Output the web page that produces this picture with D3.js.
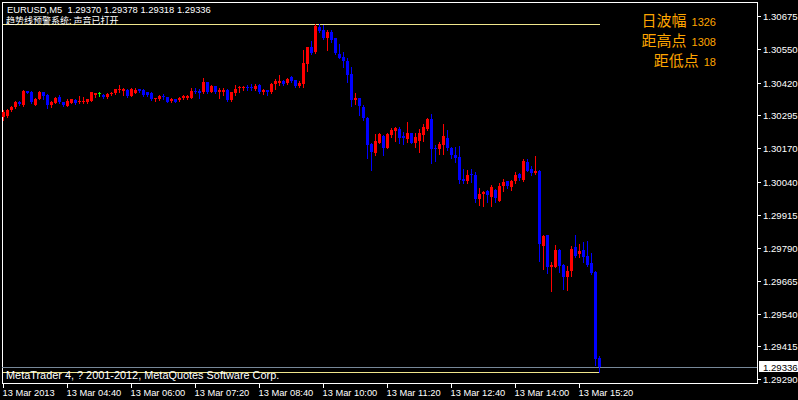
<!DOCTYPE html>
<html>
<head>
<meta charset="utf-8">
<script src="https://cdn.jsdelivr.net/npm/d3@7"></script>
<style>
  html, body { margin: 0; padding: 0; background: #000; }
  svg { display: block; }
  text { font-family: "Liberation Sans", Arial, sans-serif; }
</style>
</head>
<body>
<svg id="chart" width="798" height="400"></svg>
<script>
// ---------- DATA ----------
const symbolTitle = "EURUSD,M5  1.29370 1.29378 1.29318 1.29336";
const alertText = "趋势线预警系统: 声音已打开";
const copyrightText = "MetaTrader 4, ? 2001-2012, MetaQuotes Software Corp.";

const timeLabels = ["13 Mar 2013","13 Mar 04:40","13 Mar 06:00","13 Mar 07:20","13 Mar 08:40",
                    "13 Mar 10:00","13 Mar 11:20","13 Mar 12:40","13 Mar 14:00","13 Mar 15:20"];
const timeLabelBars = [0,16,32,48,64,80,96,112,128,144];

const priceTicks = [1.30675,1.30550,1.30420,1.30295,1.30170,1.30040,1.29915,1.29790,1.29665,1.29540,1.29415,1.29290];

const open = [1.30289,1.30294,1.30316,1.30328,1.30348,1.30335,1.30388,1.30386,1.30335,1.30358,
1.30385,1.30373,1.30335,1.30344,1.30367,1.30348,1.30332,1.30344,1.30354,1.30348,
1.30348,1.30348,1.30351,1.30373,1.30380,1.30373,1.30367,1.30376,1.30380,1.30391,
1.30389,1.30392,1.30370,1.30382,1.30395,1.30392,1.30383,1.30382,1.30358,1.30358,
1.30369,1.30364,1.30350,1.30358,1.30354,1.30363,1.30363,1.30363,1.30388,1.30388,
1.30383,1.30421,1.30386,1.30407,1.30383,1.30383,1.30392,1.30353,1.30382,1.30399,
1.30399,1.30405,1.30405,1.30396,1.30411,1.30386,1.30391,1.30383,1.30415,1.30419,
1.30428,1.30418,1.30440,1.30429,1.30407,1.30415,1.30491,1.30555,1.30537,1.30632,
1.30621,1.30591,1.30612,1.30589,1.30529,1.30519,1.30503,1.30452,1.30354,1.30360,
1.30326,1.30287,1.30186,1.30153,1.30191,1.30217,1.30172,1.30221,1.30237,1.30242,
1.30217,1.30205,1.30227,1.30191,1.30199,1.30221,1.30244,1.30280,1.30171,1.30166,
1.30183,1.30210,1.30172,1.30144,1.30136,1.30053,1.30047,1.30072,1.30067,1.29977,
1.29997,1.30007,1.29986,1.30011,1.29969,1.30026,1.30045,1.30021,1.30045,1.30072,
1.30049,1.30119,1.30090,1.30077,1.30082,1.29799,1.29838,1.29719,1.29719,1.29783,
1.29724,1.29678,1.29703,1.29793,1.29768,1.29783,1.29760,1.29732,1.29699,1.29370];

const high = [1.30316,1.30319,1.30332,1.30351,1.30351,1.30391,1.30389,1.30388,1.30360,1.30387,
1.30386,1.30376,1.30351,1.30367,1.30373,1.30348,1.30358,1.30359,1.30358,1.30369,
1.30364,1.30359,1.30386,1.30382,1.30385,1.30377,1.30381,1.30386,1.30397,1.30411,
1.30401,1.30395,1.30400,1.30399,1.30397,1.30395,1.30386,1.30385,1.30363,1.30372,
1.30376,1.30365,1.30360,1.30359,1.30365,1.30374,1.30372,1.30399,1.30399,1.30396,
1.30439,1.30424,1.30410,1.30408,1.30399,1.30399,1.30395,1.30386,1.30411,1.30408,
1.30408,1.30411,1.30414,1.30414,1.30414,1.30396,1.30393,1.30418,1.30434,1.30449,
1.30430,1.30437,1.30445,1.30431,1.30426,1.30545,1.30557,1.30579,1.30644,1.30643,
1.30640,1.30621,1.30621,1.30591,1.30566,1.30536,1.30513,1.30481,1.30380,1.30363,
1.30335,1.30290,1.30190,1.30224,1.30227,1.30220,1.30229,1.30246,1.30252,1.30250,
1.30233,1.30270,1.30229,1.30227,1.30242,1.30263,1.30284,1.30301,1.30183,1.30195,
1.30263,1.30240,1.30176,1.30176,1.30179,1.30090,1.30087,1.30090,1.30079,1.30018,
1.30008,1.30011,1.30030,1.30014,1.30039,1.30052,1.30047,1.30049,1.30079,1.30074,
1.30129,1.30128,1.30103,1.30142,1.30087,1.29840,1.29840,1.29738,1.29802,1.29785,
1.29729,1.29722,1.29798,1.29840,1.29805,1.29814,1.29817,1.29770,1.29701,1.29378];

const low = [1.30278,1.30290,1.30312,1.30325,1.30335,1.30332,1.30380,1.30344,1.30334,1.30358,
1.30358,1.30325,1.30326,1.30341,1.30344,1.30332,1.30331,1.30344,1.30339,1.30344,
1.30341,1.30344,1.30349,1.30367,1.30369,1.30360,1.30363,1.30372,1.30377,1.30386,
1.30373,1.30367,1.30368,1.30380,1.30385,1.30370,1.30369,1.30354,1.30351,1.30354,
1.30358,1.30345,1.30348,1.30346,1.30350,1.30359,1.30359,1.30360,1.30380,1.30360,
1.30381,1.30381,1.30383,1.30381,1.30363,1.30373,1.30351,1.30350,1.30373,1.30386,
1.30392,1.30392,1.30392,1.30392,1.30381,1.30377,1.30373,1.30381,1.30396,1.30411,
1.30411,1.30415,1.30424,1.30405,1.30402,1.30405,1.30465,1.30528,1.30534,1.30614,
1.30586,1.30545,1.30576,1.30528,1.30513,1.30481,1.30424,1.30332,1.30338,1.30297,
1.30278,1.30132,1.30087,1.30144,1.30189,1.30144,1.30170,1.30214,1.30199,1.30189,
1.30186,1.30195,1.30189,1.30174,1.30157,1.30199,1.30240,1.30115,1.30123,1.30147,
1.30147,1.30164,1.30132,1.30119,1.30037,1.30037,1.30039,1.30043,1.29967,1.29954,
1.29951,1.29967,1.29950,1.29967,1.29968,1.30008,1.30018,1.30011,1.30037,1.30049,
1.30047,1.30082,1.30068,1.30072,1.29742,1.29710,1.29696,1.29627,1.29718,1.29700,
1.29634,1.29630,1.29683,1.29755,1.29755,1.29738,1.29723,1.29691,1.29344,1.29318];

const close = [1.30308,1.30316,1.30328,1.30348,1.30339,1.30388,1.30382,1.30348,1.30358,1.30385,
1.30370,1.30335,1.30348,1.30363,1.30348,1.30335,1.30351,1.30357,1.30344,1.30351,
1.30351,1.30357,1.30383,1.30380,1.30380,1.30367,1.30378,1.30382,1.30395,1.30395,
1.30395,1.30370,1.30396,1.30392,1.30388,1.30373,1.30373,1.30357,1.30363,1.30369,
1.30364,1.30348,1.30358,1.30348,1.30363,1.30370,1.30369,1.30388,1.30385,1.30381,
1.30421,1.30383,1.30407,1.30383,1.30392,1.30392,1.30354,1.30383,1.30396,1.30405,
1.30405,1.30401,1.30401,1.30408,1.30383,1.30391,1.30386,1.30415,1.30428,1.30428,
1.30415,1.30434,1.30426,1.30407,1.30420,1.30494,1.30555,1.30534,1.30636,1.30618,
1.30589,1.30612,1.30583,1.30534,1.30515,1.30504,1.30449,1.30354,1.30363,1.30331,
1.30287,1.30183,1.30157,1.30198,1.30224,1.30172,1.30226,1.30240,1.30247,1.30210,
1.30210,1.30227,1.30191,1.30214,1.30227,1.30252,1.30280,1.30167,1.30166,1.30185,
1.30217,1.30172,1.30144,1.30134,1.30049,1.30047,1.30068,1.30067,1.29977,1.29996,
1.30002,1.29991,1.30021,1.29982,1.30026,1.30040,1.30028,1.30047,1.30068,1.30058,
1.30122,1.30084,1.30075,1.30084,1.29805,1.29836,1.29719,1.29724,1.29783,1.29722,
1.29678,1.29703,1.29786,1.29760,1.29778,1.29755,1.29725,1.29694,1.29367,1.29336];

const dayHigh = 1.30644;
const dayLow = 1.29318;
const bidPrice = 1.29336;

const infoLabels = ["日波幅", "距高点", "距低点"];
const infoValues = [1326, 1308, 18];

// ---------- CHART ----------
const svg = d3.select("#chart");
svg.append("rect").attr("width", 798).attr("height", 400).attr("fill", "#000");

const plotLeft = 2, plotRight = 757, plotTop = 2, plotBottom = 383;

const x = d3.scaleLinear().domain([0, open.length - 1]).range([3.5, 3.5 + 4 * (open.length - 1)]);
const y = d3.scaleLinear().domain([1.29290, 1.30675]).range([379.3, 15.7]);

const bars = open.map((o, i) => ({ i, o, h: Math.max(high[i], o, close[i]), l: Math.min(low[i], o, close[i]), c: close[i] }));
const colorOf = d => d.c > d.o ? "#FF0000" : (d.c < d.o ? "#0000FF" : "#00FF00");

const g = svg.append("g").attr("shape-rendering", "crispEdges");

// frame
g.append("rect").attr("x", plotLeft + 0.5).attr("y", plotTop + 0.5)
  .attr("width", plotRight - plotLeft).attr("height", plotBottom - plotTop)
  .attr("fill", "none").attr("stroke", "#fff");

// bid line
g.append("line").attr("x1", plotLeft).attr("x2", plotRight)
  .attr("y1", Math.round(y(bidPrice)) + 0.5).attr("y2", Math.round(y(bidPrice)) + 0.5)
  .attr("stroke", "#778899");

// day high / low lines
[dayHigh, dayLow].forEach(p => {
  g.append("line").attr("x1", plotLeft + 1).attr("x2", x(open.length - 1))
    .attr("y1", Math.round(y(p)) + 0.5).attr("y2", Math.round(y(p)) + 0.5)
    .attr("stroke", "#F0E68C");
});

// wicks
g.selectAll("line.wick").data(bars).join("line").attr("class", "wick")
  .attr("x1", d => x(d.i)).attr("x2", d => x(d.i))
  .attr("y1", d => Math.round(y(d.h))).attr("y2", d => Math.round(y(d.l)) + 1)
  .attr("stroke", colorOf);

// bodies
g.selectAll("rect.body").data(bars).join("rect").attr("class", "body")
  .attr("x", d => x(d.i) - 1.5)
  .attr("width", 3)
  .attr("y", d => Math.round(y(Math.max(d.o, d.c))))
  .attr("height", d => Math.max(1, Math.round(y(Math.min(d.o, d.c))) - Math.round(y(Math.max(d.o, d.c)))))
  .attr("fill", colorOf);

// right price axis
const yTickG = svg.append("g");
priceTicks.forEach(p => {
  const yy = Math.round(y(p)) + 0.5;
  yTickG.append("line").attr("x1", plotRight).attr("x2", plotRight + 4)
    .attr("y1", yy).attr("y2", yy).attr("stroke", "#fff").attr("shape-rendering", "crispEdges");
  yTickG.append("text").attr("x", 763).attr("y", yy + 3.5)
    .attr("fill", "#fff").attr("font-size", 9.6).text(p.toFixed(5));
});

// bid price box
const by = y(bidPrice);
svg.append("rect").attr("x", 759).attr("y", Math.round(by) - 6).attr("width", 39).attr("height", 11)
  .attr("fill", "#fff").attr("shape-rendering", "crispEdges");
svg.append("text").attr("x", 763).attr("y", Math.round(by) + 3.5)
  .attr("fill", "#000").attr("font-size", 9.6).text(bidPrice.toFixed(5));

// bottom time axis
const xTickG = svg.append("g");
timeLabelBars.forEach((b, k) => {
  const xx = x(b);
  xTickG.append("line").attr("x1", xx).attr("x2", xx).attr("y1", plotBottom).attr("y2", plotBottom + 5)
    .attr("stroke", "#fff").attr("shape-rendering", "crispEdges");
  xTickG.append("text").attr("x", xx - 1).attr("y", 396)
    .attr("fill", "#fff").attr("font-size", 9.3).text(timeLabels[k]);
});

// header texts
svg.append("text").attr("x", 7).attr("y", 13).attr("fill", "#fff").attr("font-size", 9.4)
  .attr("xml:space", "preserve").text(symbolTitle);
svg.append("text").attr("x", 6).attr("y", 24).attr("fill", "#fff").attr("font-size", 9)
  .style("font-family", "'Noto Sans CJK SC', sans-serif").text(alertText);
svg.append("text").attr("x", 6).attr("y", 379).attr("fill", "#fff").attr("font-size", 10.9).text(copyrightText);

// info block (top right)
infoLabels.forEach((lab, k) => {
  const t = svg.append("text").attr("x", 716).attr("y", 25.5 + 20 * k)
    .attr("text-anchor", "end").attr("fill", "#FFA500");
  t.append("tspan").attr("font-size", 15).style("font-family", "'Noto Sans CJK SC', sans-serif").text(lab);
  t.append("tspan").attr("font-size", 11).attr("dx", 5).text(infoValues[k]);
});
</script>
</body>
</html>
